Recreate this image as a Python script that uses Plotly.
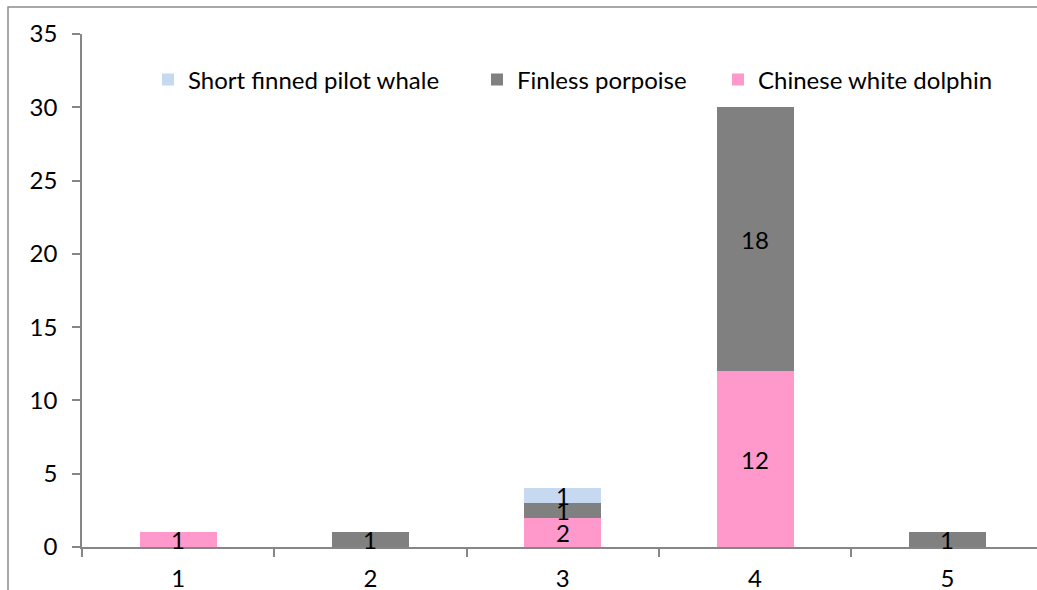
import plotly.graph_objects as go

categories = ["1", "2", "3", "4", "5"]
chinese_white_dolphin = [1, 0, 2, 12, 0]
finless_porpoise = [0, 1, 1, 18, 1]
short_finned_pilot_whale = [0, 0, 1, 0, 0]
y_ticks = [0, 5, 10, 15, 20, 25, 30, 35]

FONT = "Lato"
FS = 24
AXIS = "#868686"

series = [
    ("Chinese white dolphin", chinese_white_dolphin, "#FF99CC", "legend3"),
    ("Finless porpoise", finless_porpoise, "#808080", "legend2"),
    ("Short finned pilot whale", short_finned_pilot_whale, "#C6D9F1", "legend"),
]

fig = go.Figure()
base = [0] * len(categories)
annotations = []
for name, vals, color, lg in series:
    fig.add_trace(go.Bar(
        x=categories, y=vals, name=name, marker=dict(color=color, line=dict(width=0)),
        width=0.4, legend=lg, hoverinfo="skip", showlegend=True,
    ))
    for i, v in enumerate(vals):
        if v > 0:
            annotations.append(dict(
                x=i, y=base[i] + v / 2, text=str(v), showarrow=False,
                xref="x", yref="y", font=dict(family=FONT, size=FS, color="black"),
            ))
    base = [b + v for b, v in zip(base, vals)]

W, H = 1037, 590
ML, MT, MB = 82, 34, 43
PW, PH = W - ML, H - MT - MB

def px_x(px):
    return (px - ML) / PW

def px_y(py):
    return 1 - (py - MT) / PH

legend_common = dict(orientation="h", yanchor="middle", xanchor="left",
                     font=dict(family=FONT, size=FS, color="black"),
                     bgcolor="rgba(0,0,0,0)", borderwidth=0)

fig.update_layout(
    width=W, height=H,
    margin=dict(l=ML, r=0, t=MT, b=MB, pad=0, autoexpand=False),
    barmode="stack",
    showlegend=True,
    plot_bgcolor="white", paper_bgcolor="white",
    font=dict(family=FONT, size=FS, color="black"),
    annotations=annotations,
    legend=dict(x=px_x(148), y=px_y(80), **legend_common),
    legend2=dict(x=px_x(477), y=px_y(80), **legend_common),
    legend3=dict(x=px_x(718), y=px_y(80), **legend_common),
    xaxis=dict(
        type="category", range=[-0.5, -0.5 + PW / 192.3],
        showline=True, linecolor=AXIS, linewidth=1.5,
        ticks="outside", ticklen=8, tickcolor=AXIS, tickwidth=1.5,
        tickson="boundaries", showgrid=False, zeroline=False,
        ticklabelstandoff=9, automargin=False,
        tickfont=dict(family=FONT, size=FS, color="black"),
        fixedrange=True,
    ),
    yaxis=dict(
        range=[0, 35], tickvals=y_ticks,
        showline=True, linecolor=AXIS, linewidth=1.5,
        ticks="outside", ticklen=8, tickcolor=AXIS, tickwidth=1.5,
        showgrid=False, zeroline=False, ticklabelstandoff=10, automargin=False,
        tickfont=dict(family=FONT, size=FS, color="black"),
        fixedrange=True,
    ),
    shapes=[dict(type="rect", xref="paper", yref="paper",
                 x0=px_x(8), x1=px_x(W + 20), y0=px_y(H + 20), y1=px_y(7),
                 line=dict(color="#8C8C8C", width=1.5), layer="below")],
)

fig.write_html(
    "out.html",
    config={"displayModeBar": False},
    post_script="document.body.style.margin='0';document.body.style.overflow='hidden';",
)
